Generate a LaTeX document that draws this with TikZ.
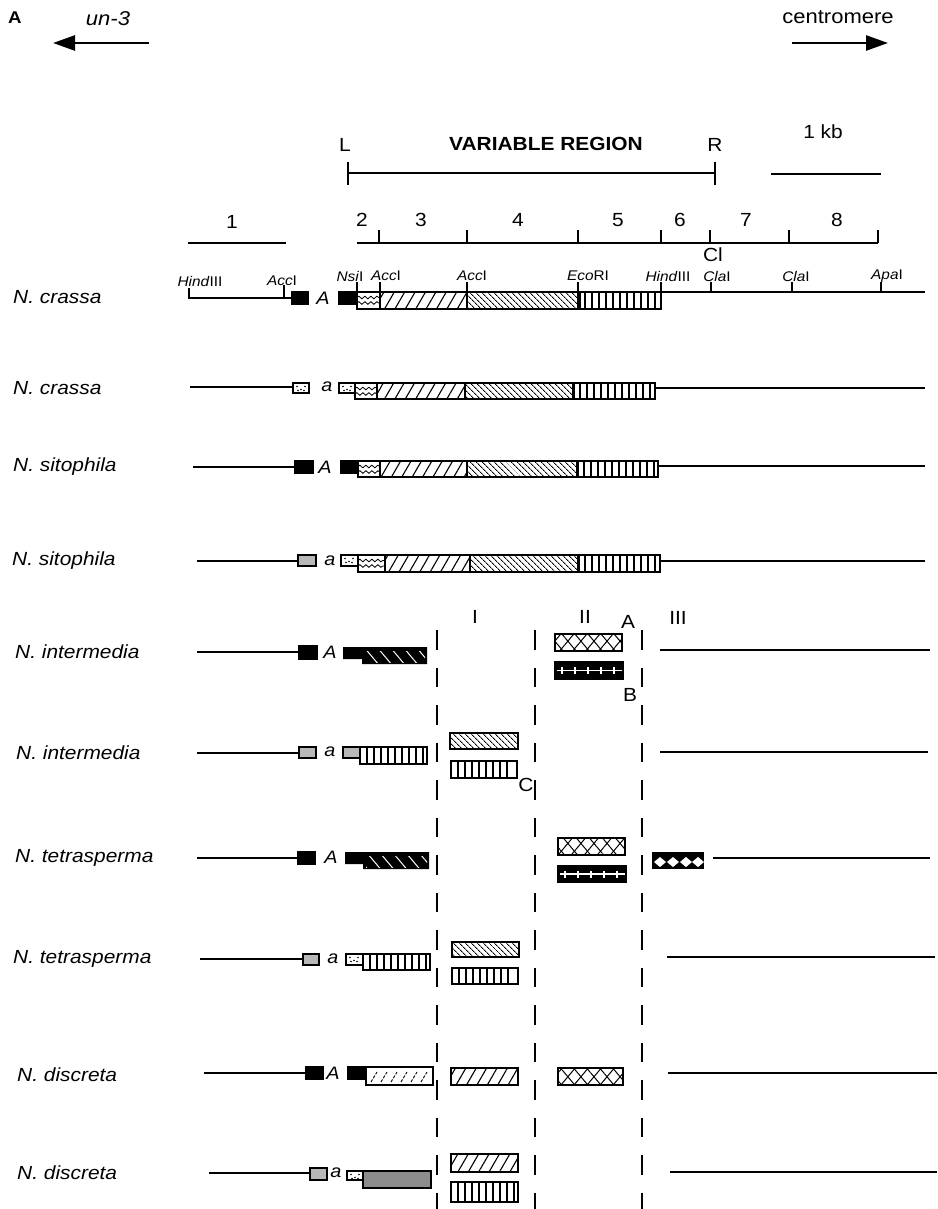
\documentclass[tikz,border=0pt]{standalone}
\usepackage{fontspec}
\setmainfont[FakeStretch=1.1]{Liberation Sans}
\usetikzlibrary{arrows.meta,patterns.meta,decorations.pathmorphing}
\tikzset{
  ln/.style={line width=1.4pt},
  bx/.style={line width=1.3pt, draw=black},
  tk/.style={line width=1.2pt},
  lab/.style={font=\fontsize{19}{22}\selectfont\itshape, anchor=west, inner sep=0pt},
  mt/.style={font=\fontsize{18}{20}\selectfont\itshape, inner sep=0pt},
  num/.style={font=\fontsize{19}{22}\selectfont, inner sep=0pt},
  rs/.style={font=\fontsize{14}{16}\selectfont, inner sep=0pt},
  dl/.style={line width=1.4pt, dash pattern=on 19.5pt off 18pt},
  bigarrow/.style={line width=2.5pt, -{Triangle[length=22pt,width=15pt]}},
}
\newcommand{\hNE}[4]{\fill[pattern={Lines[angle=60,distance=9pt,line width=1.1pt]}] (#1,#2) rectangle (#3,#4);\draw[bx] (#1,#2) rectangle (#3,#4);}
\newcommand{\hNW}[4]{\fill[pattern={Lines[angle=-45,distance=4pt,line width=0.9pt]}] (#1,#2) rectangle (#3,#4);\draw[bx] (#1,#2) rectangle (#3,#4);}
\newcommand{\hV}[4]{\draw[bx,fill=white] (#1,#2) rectangle (#3,#4);
  \pgfmathtruncatemacro\vm{(#3-#1-4)/7}%
  \foreach \k in {1,...,\vm} \draw[line width=2pt] ({#1+7*\k},#2) -- ({#1+7*\k},#4);}
\newcommand{\hX}[4]{\fill[pattern={Lines[angle=50,distance=10pt,line width=1pt]}] (#1,#2) rectangle (#3,#4);\fill[pattern={Lines[angle=-50,distance=10pt,line width=1pt]}] (#1,#2) rectangle (#3,#4);\draw[bx] (#1,#2) rectangle (#3,#4);}
\newcommand{\hBlk}[4]{\draw[bx,fill=black] (#1,#2) rectangle (#3,#4);}
\newcommand{\hGray}[4]{\draw[bx,fill=black!28] (#1,#2) rectangle (#3,#4);}
\newcommand{\hDot}[4]{\draw[bx,fill=white] (#1,#2) rectangle (#3,#4);
  \fill (#1+4,#2+3.5) circle (0.9) (#1+8,#2+6.5) circle (0.9) (#1+12,#2+3.5) circle (0.9) (#1+5,#2+7.5) circle (0.8) (#1+11,#2+7.5) circle (0.8);}
\newcommand{\hWave}[4]{\draw[bx,fill=white] (#1,#2) rectangle (#3,#4);
  \begin{scope}\clip (#1,#2) rectangle (#3,#4);
  \draw[line width=0.8pt,decorate,decoration={snake,amplitude=1.3pt,segment length=6pt}] (#1,#2+5.5) -- (#3,#2+5.5);
  \draw[line width=0.8pt,decorate,decoration={snake,amplitude=1.3pt,segment length=6pt}] (#1,#2+11) -- (#3,#2+11);
  \end{scope}}
\newcommand{\hBrick}[4]{\fill[black] (#1,#2) rectangle (#3,#4);
  \draw[white,line width=1.2pt] (#1+1.5,{(#2+#4)/2}) -- (#3-1.5,{(#2+#4)/2});
  \foreach \k in {0,...,4} \draw[white,line width=1.2pt] ({#1+7+13*\k},{(#2+#4)/2-3.5}) -- ++(0,7);
  \draw[bx] (#1,#2) rectangle (#3,#4);}
\newcommand{\hBlackA}[6]{% x1 x2 x3 y0 y1 y2
  \fill[black] (#1,#4) -- (#3,#4) -- (#3,#6) -- (#2,#6) -- (#2,#5) -- (#1,#5) -- cycle;
  \begin{scope}\clip (#2+3,#4+4) rectangle (#3-2,#6-1.5);
  \fill[pattern={Lines[angle=-50,distance=10pt,line width=1pt]},pattern color=white] (#2,#4) rectangle (#3,#6);
  \end{scope}}
\begin{document}
\begin{tikzpicture}[x=1pt,y=-1pt]
\useasboundingbox (0,0) rectangle (937,1209);
\fill[white] (0,0) rectangle (937,1209);

% ---------- header ----------
\node[font=\fontsize{17}{19}\selectfont\bfseries, inner sep=0pt] (pa) at (15,18) {A};
\node[font=\fontsize{20}{22}\selectfont\itshape, inner sep=0pt] (un) at (108,19) {un-3};
\node[font=\fontsize{20}{22}\selectfont, inner sep=0pt] (cen) at (838,17) {centromere};
\coordinate (la1) at (149,43); \coordinate (la2) at (53,43);
\coordinate (ra1) at (792,43); \coordinate (ra2) at (888,43);
\draw[bigarrow] (la1) -- (la2);
\draw[bigarrow] (ra1) -- (ra2);

% ---------- variable region ----------
\node[num] (L) at (345,145) {L};
\node[num] (R) at (715,145) {R};
\node[font=\fontsize{19}{22}\selectfont\bfseries, inner sep=0pt] (vr) at (546,144) {VARIABLE REGION};
\draw[ln] (348,162) -- (348,185) (348,173) -- (715,173) (715,162) -- (715,185);
\node[num] (kb) at (823,132) {1 kb};
\draw[ln] (771,174) -- (881,174);

% ---------- ruler ----------
\node[num] (n1) at (232,222) {1};
\draw[ln] (188,243) -- (286,243);
\node[num] (n2) at (362,220) {2};
\node[num] (n3) at (421,220) {3};
\node[num] (n4) at (518,220) {4};
\node[num] (n5) at (618,220) {5};
\node[num] (n6) at (680,220) {6};
\node[num] (n7) at (746,220) {7};
\node[num] (n8) at (837,220) {8};
\draw[ln] (357,243) -- (878,243);
\foreach \t in {379,467,578,661,710,789,878} \draw[tk] (\t,230) -- (\t,243);
\node[num] (cl) at (713,255) {Cl};

% ---------- row labels ----------
\node[lab] (s1) at (13,297) {N. crassa};
\node[lab] (s2) at (13,388) {N. crassa};
\node[lab] (s3) at (13,467) {N. sitophila};
\node[lab] (s4) at (12,561) {N. sitophila};
\node[lab] (s5) at (15,652) {N. intermedia};
\node[lab] (s6) at (16,753) {N. intermedia};
\node[lab] (s7) at (15,858) {N. tetrasperma};
\node[lab] (s8) at (13,959) {N. tetrasperma};
\node[lab] (s9) at (17,1075) {N. discreta};
\node[lab] (s10) at (17,1173) {N. discreta};

% ---------- row 1 ----------
\draw[ln] (189,288) -- (189,298) -- (292,298);
\draw[tk] (284,285) -- (284,298);
\hBlk{292}{292}{308}{304}
\node[mt] (m1) at (323,298) {A};
\hBlk{339}{292}{357}{304}
\hWave{357}{292}{380}{309}
\hNE{380}{292}{467}{309}
\hNW{467}{292}{578}{309}
\hV{578}{292}{661}{309}
\fill (577,292) rectangle (580.5,309);
\draw[ln] (661,292) -- (925,292);
\foreach \t in {357,380,467,578,661,711,792,881} \draw[tk] (\t,282) -- (\t,292);
\node[rs] (r1) at (200,281) {\textit{Hind}III};
\node[rs] (r2) at (282,281) {\textit{Acc}I};
\node[rs] (r3) at (350,276) {\textit{Nsi}I};
\node[rs] (r4) at (386,276) {\textit{Acc}I};
\node[rs] (r5) at (472,276) {\textit{Acc}I};
\node[rs] (r6) at (588,276) {\textit{Eco}RI};
\node[rs] (r7) at (668,276) {\textit{Hind}III};
\node[rs] (r8) at (717,276) {\textit{Cla}I};
\node[rs] (r9) at (796,276) {\textit{Cla}I};
\node[rs] (r10) at (887,276) {\textit{Apa}I};

% ---------- row 2 ----------
\draw[ln] (190,387) -- (293,387);
\hDot{293}{383}{309}{393}
\node[mt] (m2) at (327,387) {a};
\hDot{339}{383}{355}{393}
\hWave{355}{383}{377}{399}
\hNE{377}{383}{465}{399}
\hNW{465}{383}{573}{399}
\hV{573}{383}{655}{399}
\fill (572,383) rectangle (575,399);
\draw[ln] (655,388) -- (925,388);

% ---------- row 3 ----------
\draw[ln] (193,467) -- (295,467);
\hBlk{295}{461}{313}{473}
\node[mt] (m3) at (325,467) {A};
\hBlk{341}{461}{358}{473}
\hWave{358}{461}{380}{477}
\hNE{380}{461}{467}{477}
\hNW{467}{461}{577}{477}
\hV{577}{461}{658}{477}
\fill (576,461) rectangle (579,477);
\draw[ln] (658,466) -- (925,466);

% ---------- row 4 ----------
\draw[ln] (197,561) -- (298,561);
\hGray{298}{555}{316}{566}
\node[mt] (m4) at (330,561) {a};
\hDot{341}{555}{358}{566}
\hWave{358}{555}{385}{572}
\hNE{385}{555}{470}{572}
\hNW{470}{555}{578}{572}
\hV{578}{555}{660}{572}
\fill (577,555) rectangle (580,572);
\draw[ln] (660,561) -- (925,561);

% ---------- dashed region separators ----------
\foreach \xx in {437,535,642} \draw[dl] (\xx,630) -- (\xx,1209);
\node[num] (c1) at (475,617) {I};
\node[num] (c2) at (585,617) {II};
\node[num] (c3) at (678,618) {III};
\node[num] (lA) at (628,622) {A};
\node[num] (lB) at (630,695) {B};
\node[num] (lC) at (526,785) {C};

% ---------- row 5 ----------
\draw[ln] (197,652) -- (299,652);
\hBlk{299}{646}{317}{659}
\node[mt] (m5) at (330,652) {A};
\hBlackA{343}{362}{427}{647}{659}{664}
\hX{555}{634}{622}{651}
\hBrick{555}{662}{623}{679}
\draw[ln] (660,650) -- (930,650);

% ---------- row 6 ----------
\draw[ln] (197,753) -- (299,753);
\hGray{299}{747}{316}{758}
\node[mt] (m6) at (330,752) {a};
\hGray{343}{747}{360}{758}
\hV{360}{747}{427}{764}
\hNW{450}{733}{518}{749}
\hV{451}{761}{517}{778}
\draw[ln] (660,752) -- (928,752);

% ---------- row 7 ----------
\draw[ln] (197,858) -- (298,858);
\hBlk{298}{852}{315}{864}
\node[mt] (m7) at (331,857) {A};
\hBlackA{345}{363}{429}{852}{864}{869}
\hX{558}{838}{625}{855}
\hBrick{558}{866}{626}{882}
\fill[black] (652,852) rectangle (704,869);
\foreach \cx in {660,673,686,698} \fill[white] (\cx-6,862) -- (\cx,857) -- (\cx+6,862) -- (\cx,867) -- cycle;
\draw[ln] (713,858) -- (930,858);

% ---------- row 8 ----------
\draw[ln] (200,959) -- (303,959);
\hGray{303}{954}{319}{965}
\node[mt] (m8) at (333,959) {a};
\hDot{346}{954}{363}{965}
\hV{363}{954}{430}{970}
\hNW{452}{942}{519}{957}
\hV{452}{968}{518}{984}
\draw[ln] (667,957) -- (935,957);

% ---------- row 9 ----------
\draw[ln] (204,1073) -- (306,1073);
\hBlk{306}{1067}{323}{1079}
\node[mt] (m9) at (333,1073) {A};
\hBlk{348}{1067}{366}{1079}
\draw[bx,fill=white] (366,1067) rectangle (433,1085);
\foreach \k in {0,...,5} \draw[line width=0.9pt, dash pattern=on 3pt off 1.5pt] ({371+10*\k},1082) -- ++(6,-10);
\hNE{451}{1068}{518}{1085}
\hX{558}{1068}{623}{1085}
\draw[ln] (668,1073) -- (937,1073);

% ---------- row 10 ----------
\draw[ln] (209,1173) -- (310,1173);
\hGray{310}{1168}{327}{1180}
\node[mt] (m10) at (336,1173) {a};
\hDot{347}{1171}{363}{1180}
\draw[bx,fill=black!45] (363,1171) rectangle (431,1188);
\hNE{451}{1154}{518}{1172}
\hV{451}{1182}{518}{1202}
\draw[ln] (670,1172) -- (937,1172);
\end{tikzpicture}
\end{document}
